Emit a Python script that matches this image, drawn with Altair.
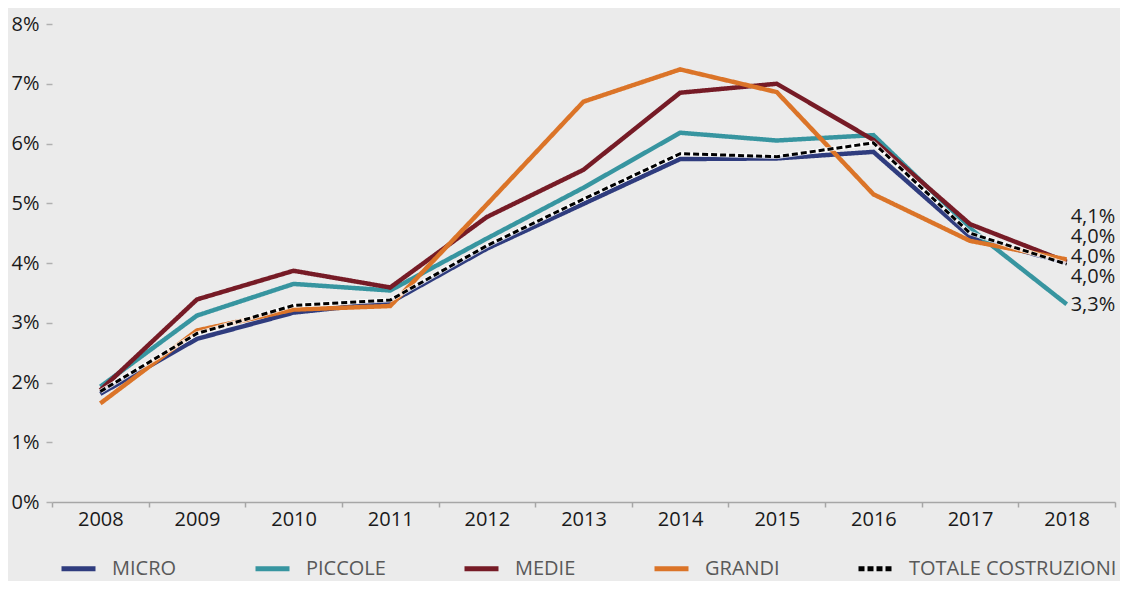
import altair as alt
import pandas as pd

years = ["2008", "2009", "2010", "2011", "2012", "2013", "2014", "2015", "2016", "2017", "2018"]
micro = [1.81, 2.73, 3.17, 3.34, 4.24, 4.99, 5.74, 5.75, 5.86, 4.44, 4.00]
piccole = [1.93, 3.12, 3.65, 3.54, 4.41, 5.26, 6.18, 6.05, 6.14, 4.58, 3.31]
medie = [1.87, 3.39, 3.87, 3.59, 4.77, 5.56, 6.85, 7.00, 6.06, 4.65, 4.02]
grandi = [1.65, 2.87, 3.22, 3.28, 4.98, 6.70, 7.24, 6.86, 5.15, 4.37, 4.06]
totale = [1.85, 2.82, 3.29, 3.38, 4.29, 5.07, 5.83, 5.78, 6.01, 4.50, 3.98]

series_names = ["MICRO", "PICCOLE", "MEDIE", "GRANDI", "TOTALE COSTRUZIONI"]
series_colors = ["#2F3C7E", "#3795A0", "#761B26", "#DB7428", "#000000"]
series_dash = [[1, 0], [1, 0], [1, 0], [1, 0], [6, 3]]

y_ticks = [0, 1, 2, 3, 4, 5, 6, 7, 8]

end_labels = ["4,1%", "4,0%", "4,0%", "4,0%", "3,3%"]
end_values = [4.1, 4.0, 4.0, 4.0, 3.3]
end_dy = [-40, -26, -6, 14, 0]

rows = []
for name, vals in zip(series_names, [micro, piccole, medie, grandi, totale]):
    for yr, v in zip(years, vals):
        rows.append({"year": yr, "series": name, "value": v})
df = pd.DataFrame(rows)

FONT = "Open Sans"

x_enc = alt.X(
    "year:O",
    scale=alt.Scale(type="band", paddingInner=0, paddingOuter=0, domain=years),
    bandPosition=0.5,
    axis=alt.Axis(
        title=None, tickBand="extent", labelAngle=0, grid=False,
        domainColor="#A6A6A6", domainWidth=1.5, tickColor="#A6A6A6",
        tickWidth=1.5, tickSize=5, labelPadding=2, labelFontSize=20,
        labelFont=FONT, labelColor="#1a1a1a",
    ),
)
y_enc = alt.Y(
    "value:Q",
    scale=alt.Scale(domain=[0, 8], nice=False, zero=True),
    axis=alt.Axis(
        title=None, values=y_ticks, labelExpr="datum.value + '%'",
        domain=False, grid=False, tickColor="#B0B0B0", tickWidth=1.5,
        tickSize=6, labelPadding=7, labelFontSize=20, labelFont=FONT,
        labelColor="#1a1a1a",
    ),
)
color_enc = alt.Color(
    "series:N",
    scale=alt.Scale(domain=series_names, range=series_colors),
    sort=series_names,
    legend=alt.Legend(title=None),
)
dash_enc = alt.StrokeDash(
    "series:N",
    scale=alt.Scale(domain=series_names, range=series_dash),
    sort=series_names,
    legend=alt.Legend(title=None),
)

base = alt.Chart(df)

colored = base.transform_filter(
    alt.datum.series != "TOTALE COSTRUZIONI"
).mark_line(strokeWidth=4.5, strokeJoin="miter").encode(
    x=x_enc, y=y_enc, color=color_enc, strokeDash=dash_enc, detail="series:N"
)

halo = base.transform_filter(
    alt.datum.series == "TOTALE COSTRUZIONI"
).mark_line(strokeWidth=4.5, color="#FFFFFF", opacity=0.8).encode(
    x=x_enc, y=y_enc
)

total_line = base.transform_filter(
    alt.datum.series == "TOTALE COSTRUZIONI"
).mark_line(strokeWidth=3).encode(
    x=x_enc, y=y_enc, color=color_enc, strokeDash=dash_enc
)

layers = [colored, halo, total_line]
for lab, val, dy in zip(end_labels, end_values, end_dy):
    tdf = pd.DataFrame({"year": [years[-1]], "value": [val], "label": [lab]})
    layers.append(
        alt.Chart(tdf).mark_text(
            align="left", baseline="middle", dx=4, dy=dy, fontSize=20,
            font=FONT, color="#1a1a1a"
        ).encode(x=x_enc, y=y_enc, text="label:N")
    )

chart = alt.layer(*layers).properties(
    width=1063,
    height=478,
    padding={"left": 44, "top": 16, "right": 5, "bottom": 79},
    autosize=alt.AutoSizeParams(type="none"),
    background="#EBEBEB",
).configure_view(
    stroke=None
).configure_legend(
    orient="none",
    legendX=7,
    legendY=525,
    direction="horizontal",
    symbolType="stroke",
    symbolSize=1156,
    symbolStrokeWidth=5,
    symbolOpacity=1,
    labelFontSize=20,
    labelFont=FONT,
    labelColor="#595959",
    labelOffset=14,
    columnPadding=68,
    padding=0,
    labelLimit=400,
)

chart.save("out.html", embed_options={"renderer": "svg", "actions": False})
